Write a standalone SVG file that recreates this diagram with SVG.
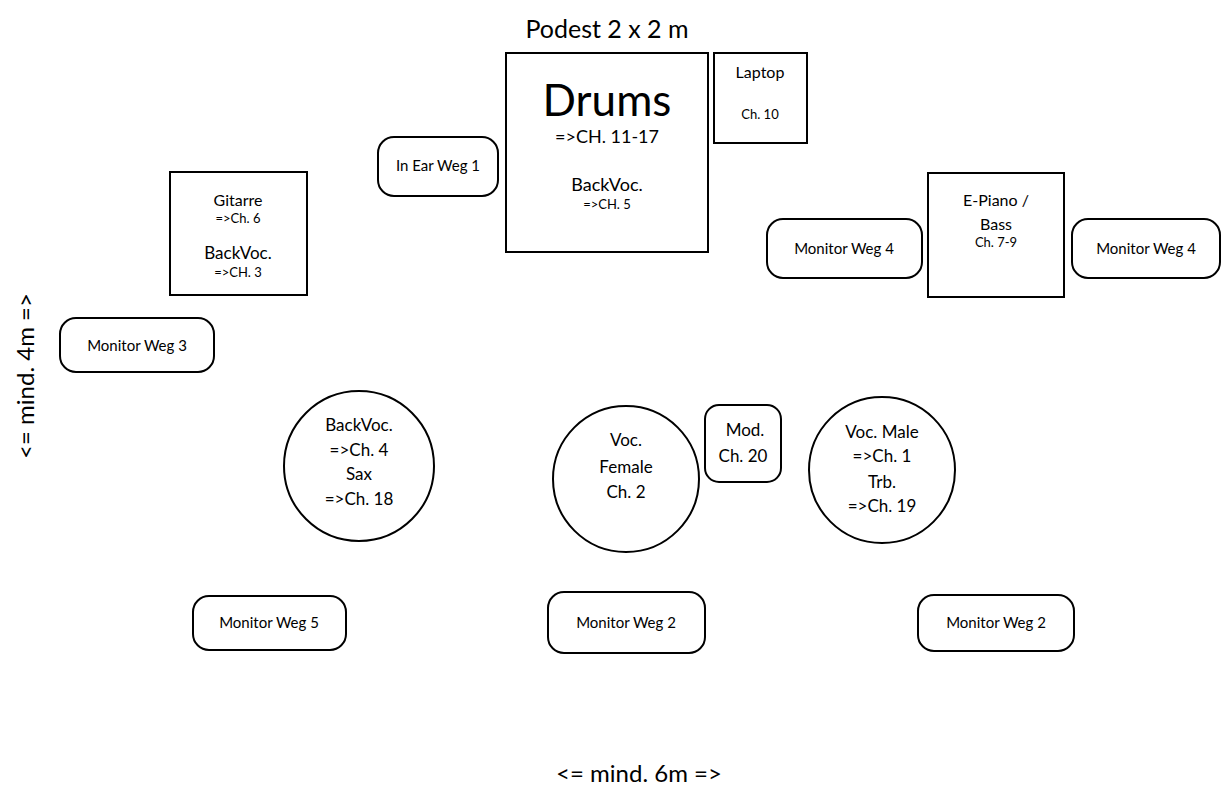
<svg xmlns="http://www.w3.org/2000/svg" width="1223" height="805" viewBox="0 0 1223 805">
<style>
text{font-family:Lato,"Open Sans","Liberation Sans",sans-serif;fill:#000;text-anchor:middle}
.box{fill:#fff;stroke:#000;stroke-width:2}
.mon{fill:#fff;stroke:#000;stroke-width:2}
.m{font-size:15px}
</style>
<rect width="1223" height="805" fill="#fff"/>
<text x="607" y="38" style="font-size:25px">Podest 2 x 2 m</text>
<g id="drums"><rect class="box" x="506" y="53" width="202" height="199"/>
<text x="607" y="116" style="font-size:44px">Drums</text>
<text x="607" y="143" style="font-size:18px">=&gt;CH. 11-17</text>
<text x="607" y="191" style="font-size:18px">BackVoc.</text>
<text x="607" y="209" style="font-size:13px">=&gt;CH. 5</text></g>
<g id="laptop"><rect class="box" x="714" y="53" width="93" height="90"/>
<text x="760" y="78" style="font-size:16px">Laptop</text>
<text x="760" y="119" style="font-size:13px">Ch. 10</text></g>
<g id="inear"><rect class="mon" x="378" y="137" width="120" height="59" rx="16"/>
<text x="438" y="171" class="m">In Ear Weg 1</text></g>
<g id="gitarre"><rect class="box" x="170" y="172" width="137" height="123"/>
<text x="238" y="206" style="font-size:16px">Gitarre</text>
<text x="238" y="223" style="font-size:13px">=&gt;Ch. 6</text>
<text x="238" y="259" style="font-size:17px">BackVoc.</text>
<text x="238" y="277" style="font-size:13px">=&gt;CH. 3</text></g>
<g id="epiano"><rect class="box" x="928" y="173" width="136" height="124"/>
<text x="996" y="206" style="font-size:16px">E-Piano /</text>
<text x="996" y="230" style="font-size:16px">Bass</text>
<text x="996" y="247" style="font-size:13px">Ch. 7-9</text></g>
<g id="mon4l"><rect class="mon" x="767" y="219" width="155" height="59" rx="16"/>
<text x="844" y="254" class="m">Monitor Weg 4</text></g>
<g id="mon4r"><rect class="mon" x="1072" y="219" width="148" height="59" rx="16"/>
<text x="1146" y="254" class="m">Monitor Weg 4</text></g>
<g id="mon3"><rect class="mon" x="60" y="318" width="154" height="54" rx="16"/>
<text x="137" y="351" class="m">Monitor Weg 3</text></g>
<g id="backvoc"><circle class="box" cx="359" cy="466" r="75"/>
<text x="359" y="431" style="font-size:17px">BackVoc.</text>
<text x="359" y="456" style="font-size:17px">=&gt;Ch. 4</text>
<text x="359" y="480" style="font-size:17px">Sax</text>
<text x="359" y="505" style="font-size:17px">=&gt;Ch. 18</text></g>
<g id="vocf"><circle class="box" cx="626" cy="479" r="73"/>
<text x="626" y="446" style="font-size:17px">Voc.</text>
<text x="626" y="473" style="font-size:17px">Female</text>
<text x="626" y="498" style="font-size:17px">Ch. 2</text></g>
<g id="mod"><rect class="mon" x="705" y="405" width="76" height="77" rx="14"/>
<text x="745" y="436" style="font-size:17px">Mod.</text>
<text x="743" y="462" style="font-size:17px">Ch. 20</text></g>
<g id="vocm"><circle class="box" cx="882" cy="470" r="73"/>
<text x="882" y="438" style="font-size:17px">Voc. Male</text>
<text x="882" y="462" style="font-size:17px">=&gt;Ch. 1</text>
<text x="882" y="488" style="font-size:17px">Trb.</text>
<text x="882" y="512" style="font-size:17px">=&gt;Ch. 19</text></g>
<g id="mon5"><rect class="mon" x="193" y="596" width="153" height="54" rx="16"/>
<text x="269" y="628" class="m">Monitor Weg 5</text></g>
<g id="mon2m"><rect class="mon" x="548" y="592" width="157" height="61" rx="16"/>
<text x="626" y="628" class="m">Monitor Weg 2</text></g>
<g id="mon2r"><rect class="mon" x="918" y="595" width="156" height="56" rx="16"/>
<text x="996" y="628" class="m">Monitor Weg 2</text></g>
<g id="connectors"/>
<text transform="translate(34,376) rotate(-90)" style="font-size:24px">&lt;= mind. 4m =&gt;</text>
<text x="639" y="782" style="font-size:24px">&lt;= mind. 6m =&gt;</text>
</svg>
